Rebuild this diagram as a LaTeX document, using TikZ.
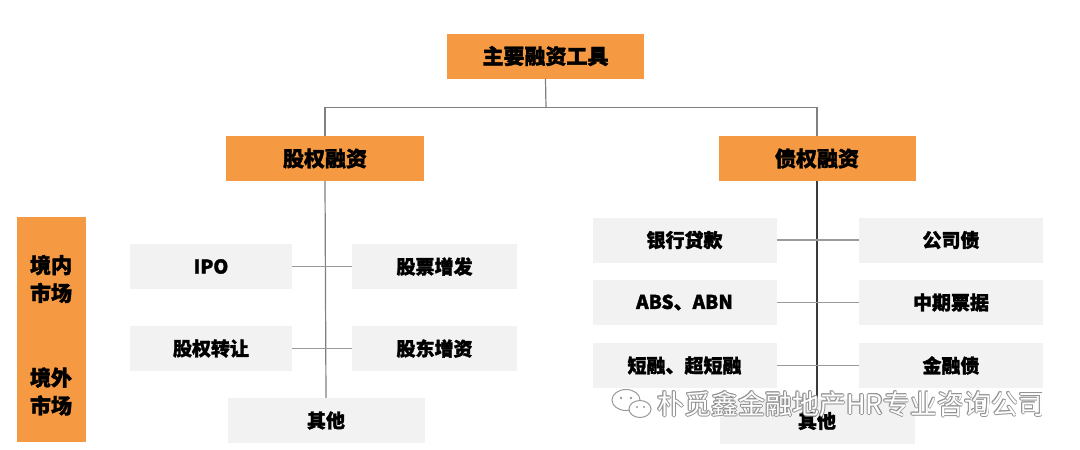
\documentclass[tikz,border=0pt]{standalone}
\usepackage{fontspec}
\setmainfont{Noto Sans CJK SC}[BoldFeatures={FakeBold=1.6}]
\definecolor{orng}{HTML}{F59A43}
\definecolor{boxgray}{HTML}{F2F2F2}
\definecolor{linegray}{HTML}{9A9A9A}
\definecolor{darkline}{HTML}{3A3A3A}
\begin{document}
\begin{tikzpicture}[x=1pt,y=-1pt,
  obox/.style={fill=orng, inner sep=0pt, minimum height=45pt, text=black,
    font=\bfseries\fontsize{21}{21}\selectfont},
  gbox/.style={fill=boxgray, inner sep=0pt, minimum height=45pt, text=black,
    font=\bfseries\fontsize{19}{19}\selectfont},
  bartext/.style={align=center, inner sep=0pt, font=\bfseries\fontsize{21}{28}\selectfont},
  conn/.style={draw=linegray, line width=1.2pt},
  vconn/.style={draw=darkline, line width=1.2pt},
  wm/.style={inner sep=0pt, font=\fontsize{27}{27}\selectfont}]
\useasboundingbox (0,0) rectangle (1080,450);
\fill[white] (0,0) rectangle (1080,450);

% orange headers
\node[obox, minimum width=197pt] (top) at (545.5,56) {主要融资工具};
\node[obox, minimum width=198pt] (eq) at (325,158.5) {股权融资};
\node[obox, minimum width=197pt] (debt) at (817,158.5) {债权融资};

% side bar
\node[fill=orng, minimum width=69pt, minimum height=225pt, inner sep=0pt] (bar) at (51.5,329.5) {};
\node[bartext] (dom) at (51,279) {境内\\市场};
\node[bartext] (ovs) at (51,391.5) {境外\\市场};

% equity items
\node[gbox, minimum width=162pt] (ipo) at (211,266.5) {IPO};
\node[gbox, minimum width=165pt] (gpzf) at (434.5,266.5) {股票增发};
\node[gbox, minimum width=162pt] (gqzr) at (211,348.5) {股权转让};
\node[gbox, minimum width=165pt] (gdzz) at (434.5,348.5) {股东增资};
\node[gbox, minimum width=197pt] (qtL) at (326,420.5) {其他};

% debt items
\node[gbox, minimum width=184pt] (yhdk) at (684.5,240) {银行贷款};
\node[gbox, minimum width=184pt] (gsz) at (951,240) {公司债};
\node[gbox, minimum width=184pt] (abs) at (684.5,302.5) {ABS、ABN};
\node[gbox, minimum width=184pt] (zqpj) at (951,302.5) {中期票据};
\node[gbox, minimum width=184pt] (drong) at (684.5,365.5) {短融、超短融};
\node[gbox, minimum width=184pt] (jrz) at (951,365.5) {金融债};
\node[gbox, minimum width=195pt] (qtR) at (817,421) {其他};

% connectors
\coordinate (j) at (546,108);
\draw[conn, draw=gray] (top.south) -- (j);
\draw[conn, draw=gray] (eq.north) -- ++(0,-28.5) -| (debt.north);
\draw[conn, draw=gray] (eq.south) -- (qtL.north);
\draw[vconn] (debt.south) -- (qtR.north);
\draw[conn] (ipo.east) -- (gpzf.west);
\draw[conn] (gqzr.east) -- (gdzz.west);
\draw[conn] (yhdk.east) -- (gsz.west);
\draw[conn] (abs.east) -- (zqpj.west);
\draw[conn] (drong.east) -- (jrz.west);

% watermark
\begin{scope}[draw=gray!80, line width=1pt, fill=white]
\filldraw (626,400) ellipse [x radius=14, y radius=10.5];
\filldraw (640,409) ellipse [x radius=11, y radius=8.5];
\fill[gray!80] (621,398) circle (1.3) (631,398) circle (1.3) (637,407) circle (1.1) (644,407) circle (1.1);
\end{scope}
\foreach \dx/\dy in {-0.9/0,0.9/0,0/-0.9,0/0.9,0.7/0.7,-0.7/-0.7,0.7/-0.7,-0.7/0.7}
  \node[wm, text=gray!85, anchor=west] at (657+\dx,404+\dy) {朴觅鑫金融地产HR专业咨询公司};
\node[wm, text=white, anchor=west] (wmtext) at (657,404) {朴觅鑫金融地产HR专业咨询公司};
\end{tikzpicture}
\end{document}
